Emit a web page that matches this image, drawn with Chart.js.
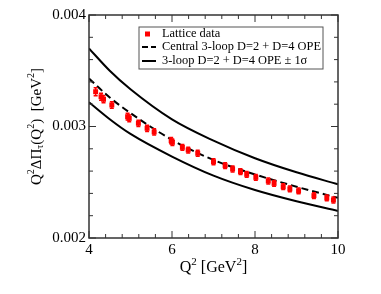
<!DOCTYPE html>
<html>
<head>
<meta charset="utf-8">
<script src="https://cdn.jsdelivr.net/npm/chart.js@4"></script>
<style>
  body { margin: 0; background: #fff; }
  canvas { display: block; }
</style>
</head>
<body>
<canvas id="chart" width="381" height="294"></canvas>
<script>
// lattice points (Q^2, value, error)
const qLattice = [4.16, 4.29, 4.35, 4.55, 4.93, 4.97, 5.19, 5.40, 5.57, 5.98, 6.01, 6.25, 6.39, 6.62,
                  7.00, 7.28, 7.46, 7.65, 7.80, 8.02, 8.32, 8.46, 8.68, 8.84, 9.05, 9.42, 9.73, 9.89];
const piLattice = [0.003312, 0.003267, 0.003244, 0.003193, 0.003088, 0.003073, 0.003029, 0.002984, 0.002951,
                   0.002873, 0.002858, 0.002813, 0.002789, 0.002760,
                   0.002684, 0.002649, 0.002619, 0.002595, 0.002571, 0.002544, 0.002511, 0.002490, 0.002460,
                   0.002440, 0.002422, 0.002380, 0.002359, 0.002341];
const errLattice = [0.000036, 0.000032, 0.000032, 0.000030, 0.000030, 0.000030, 0.000028, 0.000028, 0.000028,
                    0.000028, 0.000028, 0.000026, 0.000026, 0.000026,
                    0.000026, 0.000026, 0.000026, 0.000026, 0.000026, 0.000026, 0.000026, 0.000026, 0.000026,
                    0.000026, 0.000026, 0.000026, 0.000026, 0.000026];

// OPE curves
const qCurve = [4, 4.5, 5, 6, 7, 8, 9, 10];
const central = [0.00343, 0.00326, 0.00312, 0.00288, 0.00270, 0.00257, 0.00246, 0.00236];
const upper = [0.00370, 0.00350, 0.003334, 0.003064, 0.002873, 0.002715, 0.002589, 0.002482];
const lower = [0.003217, 0.003065, 0.002933, 0.00273, 0.002559, 0.00243, 0.002329, 0.002242];

const serif = '"Liberation Serif", "DejaVu Serif", serif';

function pts(xs, ys) {
    return xs.map((x, i) => ({ x: x, y: ys[i] }));
}

// text with super/subscripts: parts = [[text, 0|1|-1], ...]
function drawRich(ctx, parts, size) {
    const small = Math.round(size * 0.68);
    let w = 0;
    parts.forEach(p => {
        ctx.font = (p[1] ? small : size) + 'px ' + serif;
        w += ctx.measureText(p[0]).width;
    });
    let x = -w / 2;
    parts.forEach(p => {
        ctx.font = (p[1] ? small : size) + 'px ' + serif;
        const dy = p[1] === 1 ? -size * 0.38 : (p[1] === -1 ? size * 0.25 : 0);
        ctx.fillText(p[0], x, dy);
        x += ctx.measureText(p[0]).width;
    });
}

const decor = {
    id: 'decor',
    afterDatasetsDraw(chart) {
        const ctx = chart.ctx;
        const xs = chart.scales.x, ys = chart.scales.y;

        // error bars
        ctx.save();
        ctx.strokeStyle = '#ff0000';
        ctx.lineWidth = 1.5;
        qLattice.forEach((q, i) => {
            const px = xs.getPixelForValue(q);
            const y1 = ys.getPixelForValue(piLattice[i] - errLattice[i]);
            const y2 = ys.getPixelForValue(piLattice[i] + errLattice[i]);
            ctx.beginPath();
            ctx.moveTo(px, y1); ctx.lineTo(px, y2);
            ctx.moveTo(px - 2, y1); ctx.lineTo(px + 2, y1);
            ctx.moveTo(px - 2, y2); ctx.lineTo(px + 2, y2);
            ctx.stroke();
        });
        ctx.restore();
    },
    afterDraw(chart) {
        const ctx = chart.ctx;
        const a = chart.chartArea;
        const xs = chart.scales.x, ys = chart.scales.y;
        ctx.save();

        // frame
        ctx.strokeStyle = '#333';
        ctx.lineWidth = 1.5;
        ctx.strokeRect(a.left, a.top, a.right - a.left, a.bottom - a.top);

        // inward ticks on all sides
        ctx.lineWidth = 1;
        for (let i = 0; i <= 15; i++) {
            const v = 4 + i * 0.4;
            const len = i % 5 === 0 ? 7 : 4;
            const px = xs.getPixelForValue(v);
            ctx.beginPath();
            ctx.moveTo(px, a.bottom); ctx.lineTo(px, a.bottom - len);
            ctx.moveTo(px, a.top); ctx.lineTo(px, a.top + len);
            ctx.stroke();
        }
        for (let i = 0; i <= 10; i++) {
            const v = 0.002 + i * 0.0002;
            const len = i % 5 === 0 ? 7 : 4;
            const py = ys.getPixelForValue(v);
            ctx.beginPath();
            ctx.moveTo(a.left, py); ctx.lineTo(a.left + len, py);
            ctx.moveTo(a.right, py); ctx.lineTo(a.right - len, py);
            ctx.stroke();
        }

        // legend
        const bx = a.left + 50, by = a.top + 12, bw = 184, bh = 42;
        ctx.fillStyle = '#fff';
        ctx.fillRect(bx, by, bw, bh);
        ctx.strokeStyle = '#555';
        ctx.lineWidth = 1;
        ctx.strokeRect(bx, by, bw, bh);
        ctx.font = '12.4px ' + serif;
        ctx.textBaseline = 'middle';
        ctx.textAlign = 'left';
        const rows = [by + 7, by + 20, by + 34];
        ctx.fillStyle = '#ff0000';
        ctx.fillRect(bx + 6, rows[0] - 2.5, 5, 5);
        ctx.strokeStyle = '#000';
        ctx.lineWidth = 2;
        ctx.setLineDash([6, 3]);
        ctx.beginPath(); ctx.moveTo(bx + 3, rows[1]); ctx.lineTo(bx + 17, rows[1]); ctx.stroke();
        ctx.setLineDash([]);
        ctx.beginPath(); ctx.moveTo(bx + 3, rows[2]); ctx.lineTo(bx + 17, rows[2]); ctx.stroke();
        ctx.fillStyle = '#000';
        ctx.fillText('Lattice data', bx + 23, rows[0]);
        ctx.fillText('Central 3-loop D=2 + D=4 OPE', bx + 23, rows[1]);
        ctx.fillText('3-loop D=2 + D=4 OPE \u00b1 1\u03c3', bx + 23, rows[2]);

        // axis titles
        ctx.textBaseline = 'middle';
        ctx.textAlign = 'left';
        ctx.save();
        ctx.translate((a.left + a.right) / 2, 268);
        drawRich(ctx, [['Q', 0], ['2', 1], [' [GeV', 0], ['2', 1], [']', 0]], 16);
        ctx.restore();
        ctx.save();
        ctx.translate(37, (a.top + a.bottom) / 2);
        ctx.rotate(-Math.PI / 2);
        drawRich(ctx, [['Q', 0], ['2', 1], ['\u0394\u03a0', 0], ['\u03c4', -1], ['(Q', 0], ['2', 1], [')  [GeV', 0], ['2', 1], [']', 0]], 15);
        ctx.restore();

        ctx.restore();
    }
};

new Chart(document.getElementById('chart'), {
    type: 'line',
    data: {
        datasets: [{
            label: 'Lattice data',
            data: pts(qLattice, piLattice),
            showLine: false,
            pointStyle: 'rect',
            pointRadius: 3.5,
            backgroundColor: '#ff0000',
            borderColor: '#ff0000',
            borderWidth: 0
        }, {
            label: 'Central 3-loop D=2 + D=4 OPE',
            data: pts(qCurve, central),
            borderColor: '#000',
            borderWidth: 2,
            borderDash: [7, 4],
            pointRadius: 0,
            cubicInterpolationMode: 'monotone'
        }, {
            label: '3-loop D=2 + D=4 OPE + 1 sigma',
            data: pts(qCurve, upper),
            borderColor: '#000',
            borderWidth: 2,
            pointRadius: 0,
            cubicInterpolationMode: 'monotone'
        }, {
            label: '3-loop D=2 + D=4 OPE - 1 sigma',
            data: pts(qCurve, lower),
            borderColor: '#000',
            borderWidth: 2,
            pointRadius: 0,
            cubicInterpolationMode: 'monotone'
        }]
    },
    options: {
        responsive: false,
        animation: false,
        layout: { padding: { top: 15, right: 43, left: 0, bottom: 0 } },
        plugins: { legend: { display: false }, tooltip: { enabled: false } },
        scales: {
            x: {
                type: 'linear',
                min: 4, max: 10,
                grid: { display: false, drawTicks: false },
                border: { display: false },
                ticks: { stepSize: 2, padding: 3, color: '#000', font: { family: serif, size: 15 } },
                afterFit(s) { s.height = 56; }
            },
            y: {
                type: 'linear',
                min: 0.002, max: 0.004,
                grid: { display: false, drawTicks: false },
                border: { display: false },
                ticks: {
                    stepSize: 0.001, padding: 3, color: '#000',
                    font: { family: serif, size: 15 },
                    callback: v => v.toFixed(3)
                },
                afterFit(s) { s.width = 89; }
            }
        }
    },
    plugins: [decor]
});
</script>
</body>
</html>
